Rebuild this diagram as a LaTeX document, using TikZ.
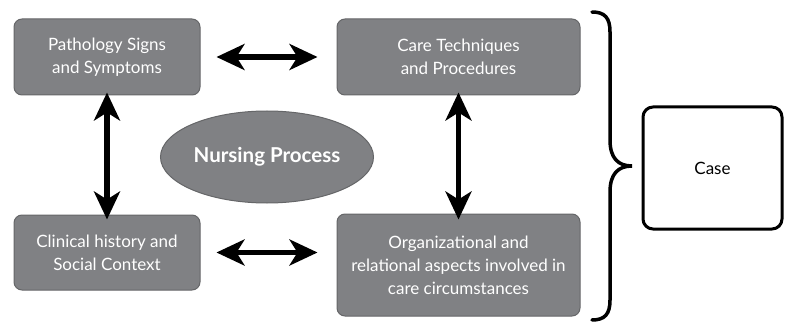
\documentclass[tikz,border=0pt]{standalone}
\usepackage{fontspec}
\setmainfont{Lato}
\usetikzlibrary{arrows.meta,shapes.geometric}
\definecolor{boxgray}{HTML}{808184}
\definecolor{edgegray}{HTML}{656668}
\begin{document}
\begin{tikzpicture}[x=1pt,y=-1pt,
  gbox/.style={draw=edgegray,line width=1pt,fill=boxgray,rounded corners=8pt,text=white,font=\fontsize{17}{23}\selectfont,align=center,inner sep=0pt},
  dbl/.style={line width=5.5pt,{Stealth[length=28pt,width=26pt,inset=8pt]}-{Stealth[length=28pt,width=26pt,inset=8pt]}}]
\useasboundingbox (0,0) rectangle (786,323);
\node[gbox,minimum width=186pt,minimum height=76pt] (ps) at (107,57) {Pathology Signs\\and Symptoms};
\node[gbox,minimum width=243pt,minimum height=76pt] (ct) at (458.5,57) {Care Techniques\\and Procedures};
\node[gbox,minimum width=186pt,minimum height=75pt] (ch) at (107,252.5) {Clinical history and\\Social Context};
\node[gbox,minimum width=243pt,minimum height=102pt] (oa) at (458.5,265) {Organizational and\\relational aspects involved in\\care circumstances};
\node[ellipse,draw=edgegray,line width=1pt,fill=boxgray,minimum width=213pt,minimum height=92pt,inner sep=0pt,text=white,font=\fontsize{20.5}{24}\selectfont\bfseries] (np) at (267,157) {Nursing Process};
\node[draw=black,line width=3pt,rounded corners=10pt,minimum width=139pt,minimum height=122pt,inner sep=0pt,font=\fontsize{17}{20}\selectfont] (case) at (712.5,168) {Case};
\draw[dbl] ([xshift=16pt]ps.east) -- ([xshift=-19pt]ct.west);
\draw[dbl] ([xshift=16pt]ch.east) -- ([xshift=-19pt]ch.east-|ct.west);
\draw[dbl] ([yshift=3pt]ps.south) -- ([yshift=-5pt]ch.north);
\draw[dbl] ([yshift=3pt]ct.south) -- ([yshift=-6pt]oa.north);
\coordinate (btop) at (592,12);
\coordinate (btip) at (632,166);
\coordinate (bbot) at (592,320);
\draw[line width=3.5pt,line cap=round] (btop) .. controls (605,12) and (610,18) .. (610,32)
  -- (610,140) .. controls (610,158) and (618,166) .. (btip)
  .. controls (618,166) and (610,174) .. (610,192)
  -- (610,300) .. controls (610,314) and (605,320) .. (bbot);
\end{tikzpicture}
\end{document}
